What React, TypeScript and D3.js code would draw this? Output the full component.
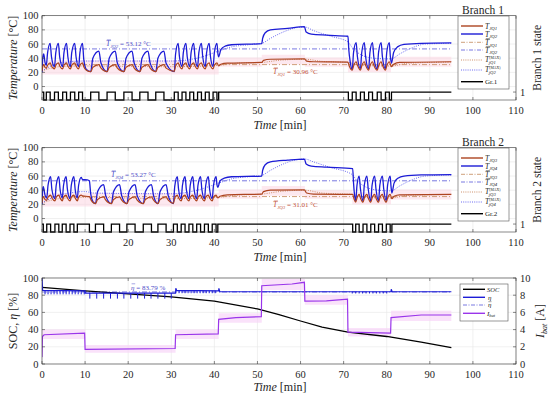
import * as d3 from 'd3';
import React from 'react';

type P = [number, number];

const FONT = "'Liberation Serif', 'DejaVu Serif', serif";
const W = 550;
const H = 399;
const X0 = 42;
const X1 = 516;

const timeTicks = [0, 10, 20, 30, 40, 50, 60, 70, 80, 90, 100, 110];
const tempTicks = [0, 20, 40, 60, 80, 100];
const pctTicks = [0, 20, 40, 60, 80, 100];
const ampTicks = [0, 2, 4, 6, 8, 10];

// mean junction temperatures and efficiency
const avgJQ1 = 30.96;
const avgJQ2 = 53.12;
const avgJQ3 = 31.01;
const avgJQ4 = 53.27;
const etaMean = 83.79;

// branch 1 switching state (time, state)
const gr1: P[] = [
  [0, 1], [0.4, 0], [1.0, 1], [1.9, 0], [2.9, 1], [3.8, 0], [4.8, 1], [5.7, 0], [6.6, 1], [7.6, 0], [8.5, 1], [9.4, 0],
  [11.3, 1], [13.2, 0], [15.1, 1], [17.0, 0], [19.0, 1], [20.9, 0], [22.7, 1], [24.6, 0], [26.4, 1], [28.3, 0],
  [30.7, 1], [31.6, 0], [32.5, 1], [33.4, 0], [34.3, 1], [35.2, 0], [36.1, 1], [37.0, 0], [37.9, 1], [38.8, 0], [39.7, 1], [40.6, 0], [41.0, 1],
  [71.1, 0], [72.0, 1], [72.9, 0], [73.9, 1], [74.8, 0], [75.8, 1], [76.7, 0], [77.8, 1], [78.7, 0], [79.7, 1], [80.6, 0], [81.1, 1], [95, 1],
];

// T_JQ2 (blue)
const tjq2: P[] = [
  [0, 20], [0.2, 42], [0.4, 46], [0.7, 34], [1.0, 30],
  [1.3, 48], [1.9, 61], [2.2, 42], [2.9, 28],
  [3.2, 48], [3.8, 61], [4.1, 42], [4.8, 28],
  [5.1, 48], [5.7, 61], [6.0, 42], [6.6, 28],
  [6.9, 48], [7.6, 61], [7.9, 42], [8.5, 28],
  [8.8, 48], [9.4, 61], [9.7, 38], [10.3, 24], [11.3, 21],
  [11.8, 40], [13.2, 50], [13.7, 33], [15.1, 21],
  [15.6, 40], [17.0, 50], [17.5, 33], [19.0, 21],
  [19.5, 40], [20.9, 50], [21.4, 33], [22.7, 21],
  [23.2, 40], [24.6, 50], [25.1, 33], [26.4, 21],
  [26.9, 40], [28.3, 50], [28.8, 33], [30.7, 21],
  [31.0, 46], [31.6, 61], [31.9, 42], [32.5, 28],
  [32.8, 48], [33.4, 61], [33.7, 42], [34.3, 28],
  [34.6, 48], [35.2, 61], [35.5, 42], [36.1, 28],
  [36.4, 48], [37.0, 61], [37.3, 42], [37.9, 28],
  [38.2, 48], [38.8, 61], [39.1, 42], [39.7, 28],
  [40.0, 48], [40.6, 61], [40.85, 45], [41.0, 42],
  [41.5, 52], [42.5, 57], [44, 59], [51, 60.5],
  [51.2, 68], [51.8, 76], [53, 80], [57, 82], [60.9, 84.5],
  [61.3, 77], [62.5, 74], [66, 72.5], [71.0, 71],
  [71.2, 52], [71.5, 36], [72.0, 24],
  [72.3, 48], [72.9, 62], [73.2, 42], [73.9, 25],
  [74.2, 48], [74.8, 62], [75.1, 42], [75.8, 25],
  [76.1, 48], [76.7, 62], [77.0, 42], [77.8, 25],
  [78.1, 48], [78.7, 62], [79.0, 42], [79.7, 25],
  [80.0, 48], [80.6, 62], [80.85, 42], [81.1, 33],
  [81.6, 48], [82.5, 56], [84, 59.5], [88, 61], [95, 61.5],
];

// T_JQ1 (brown)
const tjq1: P[] = [
  [0, 22], [0.2, 29], [0.4, 31], [0.7, 27], [1.0, 26],
  [1.3, 30], [1.9, 33.5], [2.2, 29], [2.9, 25],
  [3.2, 30], [3.8, 33.5], [4.1, 29], [4.8, 25],
  [5.1, 30], [5.7, 33.5], [6.0, 29], [6.6, 25],
  [6.9, 30], [7.6, 33.5], [7.9, 29], [8.5, 25],
  [8.8, 30], [9.4, 33.5], [9.7, 28], [10.3, 23], [11.3, 21],
  [11.8, 27], [13.2, 31], [13.7, 26], [15.1, 21],
  [15.6, 27], [17.0, 31], [17.5, 26], [19.0, 21],
  [19.5, 27], [20.9, 31], [21.4, 26], [22.7, 21],
  [23.2, 27], [24.6, 31], [25.1, 26], [26.4, 21],
  [26.9, 27], [28.3, 31], [28.8, 26], [30.7, 21.5],
  [31.0, 29], [31.6, 33.5], [31.9, 29], [32.5, 25],
  [32.8, 30], [33.4, 33.5], [33.7, 29], [34.3, 25],
  [34.6, 30], [35.2, 33.5], [35.5, 29], [36.1, 25],
  [36.4, 30], [37.0, 33.5], [37.3, 29], [37.9, 25],
  [38.2, 30], [38.8, 33.5], [39.1, 29], [39.7, 25],
  [40.0, 30], [40.6, 33.5], [41.0, 29],
  [41.5, 31.5], [43, 33], [51, 34],
  [51.4, 37], [53, 38.5], [60.9, 39],
  [61.4, 36], [63, 35], [71.0, 34.5],
  [71.3, 29], [72.0, 23],
  [72.3, 29], [72.9, 35], [73.2, 30], [73.9, 23],
  [74.2, 29], [74.8, 35], [75.1, 30], [75.8, 23],
  [76.1, 29], [76.7, 35], [77.0, 30], [77.8, 23],
  [78.1, 29], [78.7, 35], [79.0, 30], [79.7, 23],
  [80.0, 29], [80.6, 35], [81.1, 28],
  [81.6, 31.5], [83, 34], [95, 35],
];

const tjq2Max: P[] = [
  [0, 22], [4, 33], [10, 36], [30, 36], [36, 40], [41, 50], [44, 56], [48, 59], [51, 61], [53, 68], [56, 77], [59, 83],
  [61, 84], [63, 79], [67, 71], [71, 63], [72, 55], [74, 45], [77, 40], [81, 39], [83, 46], [86, 55], [89, 60], [95, 61],
];
const tjq1Max: P[] = [
  [0, 22], [4, 28], [10, 29], [30, 28], [41, 30], [45, 33], [51, 34], [55, 37], [61, 38.5], [65, 35.5], [71, 34],
  [74, 30], [81, 29], [85, 33], [95, 34.5],
];

const band1T = [0, 41, 41, 51, 51, 61, 61, 71, 71, 81, 81, 95];
const band1Lo = [17, 17, 28, 28, 31, 31, 28, 28, 20, 20, 28, 28];
const band1Hi = [37, 37, 41, 41, 45, 45, 41, 41, 38, 38, 42, 42];

// branch 2 switching state
const gr2: P[] = [
  [0, 1], [0.3, 0], [1.1, 1], [2.0, 0], [3.0, 1], [3.9, 0], [4.7, 1], [5.6, 0], [6.5, 1], [7.4, 0], [8.2, 1], [11.0, 0],
  [12.4, 1], [14.3, 0], [16.1, 1], [18.0, 0], [19.7, 1], [21.6, 0], [23.5, 1], [25.4, 0], [26.9, 1], [28.8, 0],
  [30.5, 1], [31.4, 0], [32.3, 1], [33.2, 0], [34.1, 1], [35.0, 0], [35.9, 1], [36.8, 0], [37.7, 1], [38.6, 0], [39.5, 1], [40.4, 0], [40.8, 1],
  [72.1, 0], [72.8, 1], [73.6, 0], [74.5, 1], [75.4, 0], [76.3, 1], [77.2, 0], [78.1, 1], [79.0, 0], [79.9, 1], [80.8, 0], [81.2, 1], [95, 1],
];

// T_JQ4 (blue)
const tjq4: P[] = [
  [0, 20], [0.15, 40], [0.3, 45], [0.7, 33], [1.1, 29],
  [1.4, 47], [2.0, 59], [2.3, 41], [3.0, 28],
  [3.3, 47], [3.9, 59], [4.2, 41], [4.7, 29],
  [5.0, 47], [5.6, 59], [5.9, 41], [6.5, 28],
  [6.8, 47], [7.4, 59], [7.7, 41], [8.2, 29],
  [8.5, 47], [9.1, 58], [9.4, 55], [10.5, 54.5], [11.0, 53],
  [11.3, 35], [11.8, 24], [12.4, 21],
  [12.9, 38], [14.3, 48], [14.8, 32], [16.1, 21],
  [16.6, 38], [18.0, 48], [18.5, 32], [19.7, 21],
  [20.2, 38], [21.6, 48], [22.1, 32], [23.5, 21],
  [24.0, 38], [25.4, 48], [25.9, 32], [26.9, 21],
  [27.4, 38], [28.8, 48], [29.3, 32], [30.5, 21],
  [30.8, 45], [31.4, 59], [31.7, 41], [32.3, 28],
  [32.6, 47], [33.2, 59], [33.5, 41], [34.1, 28],
  [34.4, 47], [35.0, 59], [35.3, 41], [35.9, 28],
  [36.2, 47], [36.8, 59], [37.1, 41], [37.7, 28],
  [38.0, 47], [38.6, 59], [38.9, 41], [39.5, 28],
  [39.8, 47], [40.4, 59], [40.6, 48], [40.8, 44],
  [41.3, 53], [42.3, 57], [44, 59], [51, 60],
  [51.2, 68], [51.8, 76], [53, 80], [57, 82.5], [60.9, 84],
  [61.3, 77], [62.5, 74], [66, 72.5], [72.1, 70.5],
  [72.3, 50], [72.5, 35], [72.8, 25],
  [73.1, 47], [73.6, 60], [73.9, 42], [74.5, 25],
  [74.8, 47], [75.4, 60], [75.7, 42], [76.3, 25],
  [76.6, 47], [77.2, 60], [77.5, 42], [78.1, 25],
  [78.4, 47], [79.0, 60], [79.3, 42], [79.9, 25],
  [80.2, 47], [80.8, 60], [81.0, 45], [81.2, 36],
  [81.7, 50], [82.6, 57], [84, 60], [88, 61.5], [95, 62],
];

// T_JQ3 (brown)
const tjq3: P[] = [
  [0, 22], [0.15, 29], [0.3, 31], [0.7, 27], [1.1, 26],
  [1.4, 30], [2.0, 33], [2.3, 29], [3.0, 25],
  [3.3, 30], [3.9, 33], [4.2, 29], [4.7, 25],
  [5.0, 30], [5.6, 33], [5.9, 29], [6.5, 25],
  [6.8, 30], [7.4, 33], [7.7, 29], [8.2, 25],
  [8.5, 30], [9.1, 33], [9.4, 32], [11.0, 31],
  [11.4, 26], [12.4, 21],
  [12.9, 27], [14.3, 30.5], [14.8, 26], [16.1, 21],
  [16.6, 27], [18.0, 30.5], [18.5, 26], [19.7, 21],
  [20.2, 27], [21.6, 30.5], [22.1, 26], [23.5, 21],
  [24.0, 27], [25.4, 30.5], [25.9, 26], [26.9, 21],
  [27.4, 27], [28.8, 30.5], [29.3, 26], [30.5, 21.5],
  [30.8, 29], [31.4, 33], [31.7, 29], [32.3, 25],
  [32.6, 30], [33.2, 33], [33.5, 29], [34.1, 25],
  [34.4, 30], [35.0, 33], [35.3, 29], [35.9, 25],
  [36.2, 30], [36.8, 33], [37.1, 29], [37.7, 25],
  [38.0, 30], [38.6, 33], [38.9, 29], [39.5, 25],
  [39.8, 30], [40.4, 33], [40.8, 29],
  [41.3, 31.5], [43, 33.5], [51, 34.5],
  [51.4, 38], [53, 40], [60.9, 40.5],
  [61.4, 36], [63, 34.5], [72.1, 34],
  [72.4, 28], [72.8, 23],
  [73.1, 29], [73.6, 34], [73.9, 29], [74.5, 23],
  [74.8, 29], [75.4, 34], [75.7, 29], [76.3, 23],
  [76.6, 29], [77.2, 34], [77.5, 29], [78.1, 23],
  [78.4, 29], [79.0, 34], [79.3, 29], [79.9, 23],
  [80.2, 29], [80.8, 34], [81.2, 28],
  [81.7, 31.5], [83, 33.5], [95, 34],
];

const tjq4Max: P[] = [
  [0, 22], [4, 33], [10, 38], [12, 36], [30, 35], [36, 40], [41, 50], [44, 56], [48, 59], [51, 61], [53, 68], [56, 77],
  [59, 83], [61, 84], [63, 80], [67, 72], [72, 62], [73, 54], [75, 45], [78, 40], [81, 39], [83, 46], [86, 55], [89, 60], [95, 61.5],
];
const tjq3Max: P[] = [
  [0, 22], [4, 28], [10, 30], [30, 28], [41, 30], [45, 33], [51, 34.5], [55, 38], [61, 40], [65, 36], [72, 34],
  [75, 30], [81, 29], [85, 33], [95, 34],
];

const band2T = [0, 41, 41, 51, 51, 61, 61, 72, 72, 81, 81, 95];
const band2Lo = [17, 17, 28, 28, 32, 32, 28, 28, 20, 20, 27, 27];
const band2Hi = [36, 36, 41, 41, 46, 46, 40, 40, 37, 37, 41, 41];

// SOC, efficiency, battery current
const soc: P[] = [
  [0, 89], [10, 85], [20, 81.5], [30, 78], [40, 73], [50, 64], [55, 57.5], [60, 50], [65, 43], [71, 37], [80, 32], [88, 25.5], [95, 19],
];
const etaBase: P[] = [
  [0, 100], [0.15, 85.5], [10, 85], [10.05, 82.5], [31, 82.5], [31.05, 88], [31.25, 85.5], [41, 85], [41.05, 88],
  [41.25, 84], [81, 84], [81.05, 87], [81.25, 84], [95, 84],
];
const etaDipsA = [0.7, 1.4, 2.1, 2.8, 3.5, 4.2, 4.9, 5.6, 6.3, 7.0, 7.7, 8.4, 9.1, 9.8];
const etaDipsB = [11.1, 12.7, 14.3, 15.9, 17.5, 19.0, 20.6, 22.2, 23.8, 25.3, 26.9, 28.5, 30.0];
const etaDipsC = [31.8, 32.5, 33.2, 33.9, 34.6, 35.3, 36.0, 36.7, 37.4, 38.1, 38.8, 39.5, 40.2];
const etaDipsD = [72.0, 72.8, 73.6, 74.4, 75.2, 76.0, 76.8, 77.6, 78.4, 79.2, 80.0];

const iBat: P[] = [
  [0, 0.8], [0.1, 3.2], [0.5, 3.4], [9.9, 3.6], [10.0, 1.7], [30.9, 1.8], [31.0, 3.4], [40.9, 3.5], [41.0, 5.2], [45, 5.4],
  [50.9, 5.5], [51.0, 9.1], [58, 9.3], [60.9, 9.5], [61.0, 7.3], [66, 7.35], [70.9, 7.55], [71.0, 3.7], [80.9, 3.6],
  [81.0, 5.4], [88, 5.7], [95, 5.7],
];
const iBandT = [0, 10, 10, 31, 31, 41, 41, 51, 51, 61, 61, 71, 71, 81, 81, 95];
const iBandLo = [2.9, 2.9, 1.3, 1.3, 2.9, 2.9, 4.8, 4.8, 8.6, 8.6, 6.9, 6.9, 3.2, 3.2, 5.0, 5.0];
const iBandHi = [4.0, 4.0, 2.2, 2.2, 4.0, 4.0, 5.9, 5.9, 9.9, 9.9, 8.0, 8.0, 4.2, 4.2, 6.2, 6.2];

const BLUE = '#1c1cd6';
const BROWN = '#ad4420';
const BLUE_DD = '#6a6ade';
const BROWN_DD = '#c9956c';
const BLUE_DOT = '#5a5af0';
const BROWN_DOT = '#c8845a';
const PURPLE = '#9a35ea';
const GRID = '#e6e6e6';
const AXIS = '#3a3a3a';

const x = d3.scaleLinear().domain([0, 110]).range([X0, X1]);

// T with optional bar, superscript and subscript
const TSym = ({ tx, ty, sub, bar, max, size = 7.5, color = '#222' }: any) => {
  const sw = size * 0.6;
  return (
    <g>
      {bar && <line x1={tx + 0.8} x2={tx + sw + 0.4} y1={ty - size * 0.82} y2={ty - size * 0.82} stroke={color} strokeWidth={0.5} />}
      <text x={tx} y={ty} fontFamily={FONT} fontSize={size} fill={color}>
        <tspan fontStyle="italic">T</tspan>
        {max ? (
          <>
            <tspan fontSize={size * 0.5} dy={-size * 0.45}>(MAX)</tspan>
            <tspan fontSize={size * 0.62} fontStyle="italic" dx={-size * 1.55} dy={size * 0.75}>{sub}</tspan>
          </>
        ) : (
          <tspan fontSize={size * 0.65} fontStyle="italic" dy={size * 0.25}>{sub}</tspan>
        )}
      </text>
    </g>
  );
};

const Box = ({ top, bot }: { top: number; bot: number }) => (
  <rect x={X0} y={top} width={X1 - X0} height={bot - top} fill="none" stroke={AXIS} strokeWidth={0.6} />
);

const XAxis = ({ top, bot, labY, titleY }: any) => (
  <g>
    {timeTicks.map(t => (
      <g key={t}>
        <line x1={x(t)} x2={x(t)} y1={bot} y2={bot - 3} stroke={AXIS} strokeWidth={0.6} />
        <line x1={x(t)} x2={x(t)} y1={top} y2={top + 3} stroke={AXIS} strokeWidth={0.6} />
        <text x={x(t)} y={labY} textAnchor="middle" fontFamily={FONT} fontSize={10.5} fill="#262626">{t}</text>
      </g>
    ))}
    <text x={280} y={titleY} textAnchor="middle" fontFamily={FONT} fontSize={12} fill="#262626">
      <tspan fontStyle="italic">Time</tspan> [min]
    </text>
  </g>
);

const TempPanel = ({ off, n, blue, brown, blueMax, brownMax, bT, bLo, bHi, gr, avgA, avgB, qA, qB, avgAPos, avgBPos }: any) => {
  const top = 15.7 + off;
  const bot = 100 + off;
  const y = d3.scaleLinear().domain([-19, 100]).range([bot, top]);
  const ys = d3.scaleLinear().domain([0, 10.6]).range([bot, top]);
  const smooth = d3.line<P>().x(d => x(d[0])).y(d => y(d[1])).curve(d3.curveMonotoneX);
  const step = d3.line<P>().x(d => x(d[0])).y(d => ys(d[1])).curve(d3.curveStepAfter);
  const band = d3.area<number>().x(d => x(d)).y0((_, i) => y(bLo[i])).y1((_, i) => y(bHi[i]));
  const clipId = `clipT${n}`;
  const lgX = 458;
  const lgY = 16 + off;
  const rows = [10, 18, 26.3, 34, 44, 54, 65.7];
  const items = [
    { c: BROWN, w: 1.4, d: undefined, lab: <TSym tx={lgX + 27} ty={lgY + rows[0] + 2.5} sub={`JQ${qA}`} /> },
    { c: BLUE, w: 1.4, d: undefined, lab: <TSym tx={lgX + 27} ty={lgY + rows[1] + 2.5} sub={`JQ${qB}`} /> },
    { c: BROWN_DD, w: 0.9, d: '4,1.5,1,1.5', lab: <TSym tx={lgX + 27} ty={lgY + rows[2] + 2.5} sub={`JQ${qA}`} bar /> },
    { c: BLUE_DD, w: 0.9, d: '4,1.5,1,1.5', lab: <TSym tx={lgX + 27} ty={lgY + rows[3] + 2.5} sub={`JQ${qB}`} bar /> },
    { c: BROWN_DOT, w: 0.9, d: '1,1.2', lab: <TSym tx={lgX + 27} ty={lgY + rows[4] + 2} sub={`jQ${qA}`} max /> },
    { c: BLUE_DOT, w: 0.9, d: '1,1.2', lab: <TSym tx={lgX + 27} ty={lgY + rows[5] + 2} sub={`jQ${qB}`} max /> },
    {
      c: '#000', w: 1.4, d: undefined,
      lab: <text x={lgX + 27} y={lgY + rows[6] + 2.5} fontFamily={FONT} fontSize={7} fill="#222">Gr.{n}</text>,
    },
  ];
  return (
    <g>
      <defs>
        <clipPath id={clipId}>
          <rect x={X0} y={top - 1} width={X1 - X0} height={bot - top + 2} />
        </clipPath>
      </defs>
      {timeTicks.map(t => (
        <line key={t} x1={x(t)} x2={x(t)} y1={top} y2={bot} stroke={GRID} strokeWidth={0.6} />
      ))}
      {tempTicks.map(t => (
        <line key={t} x1={X0} x2={X1} y1={y(t)} y2={y(t)} stroke={GRID} strokeWidth={0.6} />
      ))}
      <g clipPath={`url(#${clipId})`}>
        <path d={band(bT) || ''} fill="#fbd6e2" opacity={0.55} />
        <line x1={x(0)} x2={x(95)} y1={y(avgA)} y2={y(avgA)} stroke={BROWN_DD} strokeWidth={0.9} strokeDasharray="5,2,1,2" />
        <line x1={x(0)} x2={x(95)} y1={y(avgB)} y2={y(avgB)} stroke={BLUE_DD} strokeWidth={0.9} strokeDasharray="5,2,1,2" />
        <path d={smooth(brownMax) || ''} fill="none" stroke={BROWN_DOT} strokeWidth={0.9} strokeDasharray="1,1.3" />
        <path d={smooth(blueMax) || ''} fill="none" stroke={BLUE_DOT} strokeWidth={0.9} strokeDasharray="1,1.3" />
        <path d={smooth(blue) || ''} fill="none" stroke={BLUE} strokeWidth={1.3} />
        <path d={smooth(brown) || ''} fill="none" stroke={BROWN} strokeWidth={1.2} />
        <path d={step(gr) || ''} fill="none" stroke="#000" strokeWidth={1.3} />
      </g>
      <Box top={top} bot={bot} />
      {tempTicks.map(t => (
        <g key={t}>
          <line x1={X0} x2={X0 + 3} y1={y(t)} y2={y(t)} stroke={AXIS} strokeWidth={0.6} />
          <text x={38.5} y={y(t) + 3.6} textAnchor="end" fontFamily={FONT} fontSize={10.5} fill="#262626">{t}</text>
        </g>
      ))}
      <line x1={X1} x2={X1 - 3} y1={ys(1)} y2={ys(1)} stroke={AXIS} strokeWidth={0.6} />
      <text x={520} y={ys(1) + 3.6} fontFamily={FONT} fontSize={10.5} fill="#262626">1</text>
      <XAxis top={top} bot={bot} labY={bot + 13.5} titleY={bot + 28.5} />
      <text transform={`translate(17,${(top + bot) / 2}) rotate(-90)`} textAnchor="middle" fontFamily={FONT} fontSize={12} fill="#262626">
        <tspan fontStyle="italic">Temperature</tspan> [°C]
      </text>
      <text transform={`translate(541,${(top + bot) / 2}) rotate(-90)`} textAnchor="middle" fontFamily={FONT} fontSize={11.5} fill="#262626">
        Branch {n} state
      </text>
      <text x={483} y={top - 2} textAnchor="middle" fontFamily={FONT} fontSize={11.5} fill="#262626">Branch {n}</text>
      {/* mean annotations */}
      <g>
        <TSym tx={avgBPos[0]} ty={avgBPos[1]} sub={`JQ${qB}`} bar size={7.5} color="#4b4bc8" />
        <text x={avgBPos[0] + 14} y={avgBPos[1]} fontFamily={FONT} fontSize={7} fill="#4b4bc8">= {avgB.toFixed(2)} °C</text>
        <TSym tx={avgAPos[0]} ty={avgAPos[1]} sub={`JQ${qA}`} bar size={7.5} color="#c2503a" />
        <text x={avgAPos[0] + 14} y={avgAPos[1]} fontFamily={FONT} fontSize={7} fill="#c2503a">= {avgA.toFixed(2)} °C</text>
      </g>
      {/* legend */}
      <rect x={lgX} y={lgY} width={51} height={73} fill="#fff" stroke="#555" strokeWidth={0.6} />
      {items.map((it, i) => (
        <g key={i}>
          <line x1={lgX + 3} x2={lgX + 25} y1={lgY + rows[i]} y2={lgY + rows[i]} stroke={it.c} strokeWidth={it.w} strokeDasharray={it.d} />
          {it.lab}
        </g>
      ))}
    </g>
  );
};

const SocPanel = () => {
  const top = 278;
  const bot = 364;
  const y = d3.scaleLinear().domain([0, 100]).range([bot, top]);
  const yi = d3.scaleLinear().domain([0, 10]).range([bot, top]);
  const lin = d3.line<P>().x(d => x(d[0])).y(d => y(d[1]));
  const linI = d3.line<P>().x(d => x(d[0])).y(d => yi(d[1]));
  const bandI = d3.area<number>().x(d => x(d)).y0((_, i) => yi(iBandLo[i])).y1((_, i) => yi(iBandHi[i]));
  const dips = (ts: number[], base: number, tip: number) =>
    ts.map(t => `M${x(t)},${y(base)}L${x(t)},${y(tip)}`).join('');
  const lgX = 460;
  const lgY = 284;
  const rows = [5.3, 13.3, 21, 29.3];
  return (
    <g>
      <defs>
        <clipPath id="clipS">
          <rect x={X0} y={top - 1} width={X1 - X0} height={bot - top + 2} />
        </clipPath>
      </defs>
      {timeTicks.map(t => (
        <line key={t} x1={x(t)} x2={x(t)} y1={top} y2={bot} stroke={GRID} strokeWidth={0.6} />
      ))}
      {pctTicks.map(t => (
        <line key={t} x1={X0} x2={X1} y1={y(t)} y2={y(t)} stroke={GRID} strokeWidth={0.6} />
      ))}
      <g clipPath="url(#clipS)">
        <path d={bandI(iBandT) || ''} fill="#f7d2f7" opacity={0.65} />
        <line x1={x(0)} x2={x(95)} y1={y(etaMean)} y2={y(etaMean)} stroke={BLUE_DD} strokeWidth={0.9} strokeDasharray="5,2,1,2" />
        <path d={lin(soc) || ''} fill="none" stroke="#000" strokeWidth={1.3} />
        <path d={lin(etaBase) || ''} fill="none" stroke={BLUE} strokeWidth={1.2} />
        <path
          d={dips(etaDipsA, 85, 81) + dips(etaDipsB, 82.5, 76) + dips(etaDipsC, 85.3, 82.3) + dips(etaDipsD, 84, 82)}
          fill="none"
          stroke={BLUE}
          strokeWidth={1}
        />
        <path d={linI(iBat) || ''} fill="none" stroke={PURPLE} strokeWidth={1.2} />
      </g>
      <Box top={top} bot={bot} />
      {pctTicks.map(t => (
        <g key={t}>
          <line x1={X0} x2={X0 + 3} y1={y(t)} y2={y(t)} stroke={AXIS} strokeWidth={0.6} />
          <text x={38.5} y={y(t) + 3.6} textAnchor="end" fontFamily={FONT} fontSize={10.5} fill="#262626">{t}</text>
        </g>
      ))}
      {ampTicks.map(t => (
        <g key={t}>
          <line x1={X1} x2={X1 - 3} y1={yi(t)} y2={yi(t)} stroke={AXIS} strokeWidth={0.6} />
          <text x={520} y={yi(t) + 3.6} fontFamily={FONT} fontSize={10.5} fill="#262626">{t}</text>
        </g>
      ))}
      <XAxis top={top} bot={bot} labY={bot + 13.5} titleY={bot + 26.5} />
      <text transform={`translate(17,${(top + bot) / 2}) rotate(-90)`} textAnchor="middle" fontFamily={FONT} fontSize={12} fill="#262626">
        SOC, <tspan fontStyle="italic">η</tspan> [%]
      </text>
      <text transform={`translate(544,${(top + bot) / 2}) rotate(-90)`} textAnchor="middle" fontFamily={FONT} fontSize={12} fill="#262626">
        <tspan fontStyle="italic">I</tspan>
        <tspan fontStyle="italic" fontSize={8} dy={2.5}>bat</tspan>
        <tspan dy={-2.5}> [A]</tspan>
      </text>
      <line x1={131.6} x2={135.2} y1={283.8} y2={283.8} stroke="#4b4bc8" strokeWidth={0.5} />
      <text x={131} y={289.5} fontFamily={FONT} fontSize={7} fill="#4b4bc8">
        <tspan fontStyle="italic">η</tspan> = {etaMean.toFixed(2)} %
      </text>
      <rect x={lgX} y={lgY} width={48} height={37} fill="#fff" stroke="#555" strokeWidth={0.6} />
      <line x1={lgX + 3} x2={lgX + 25} y1={lgY + rows[0]} y2={lgY + rows[0]} stroke="#000" strokeWidth={1.4} />
      <text x={lgX + 27} y={lgY + rows[0] + 2.3} fontFamily={FONT} fontSize={6.5} fontStyle="italic" fill="#222">SOC</text>
      <line x1={lgX + 3} x2={lgX + 25} y1={lgY + rows[1]} y2={lgY + rows[1]} stroke={BLUE} strokeWidth={1.4} />
      <text x={lgX + 28} y={lgY + rows[1] + 2.3} fontFamily={FONT} fontSize={7} fontStyle="italic" fill="#222">η</text>
      <line x1={lgX + 3} x2={lgX + 25} y1={lgY + rows[2]} y2={lgY + rows[2]} stroke={BLUE_DD} strokeWidth={0.9} strokeDasharray="4,1.5,1,1.5" />
      <line x1={lgX + 28.3} x2={lgX + 31.5} y1={lgY + rows[2] - 3.3} y2={lgY + rows[2] - 3.3} stroke="#222" strokeWidth={0.4} />
      <text x={lgX + 28} y={lgY + rows[2] + 2.3} fontFamily={FONT} fontSize={7} fontStyle="italic" fill="#222">η</text>
      <line x1={lgX + 3} x2={lgX + 25} y1={lgY + rows[3]} y2={lgY + rows[3]} stroke={PURPLE} strokeWidth={1.4} />
      <text x={lgX + 27} y={lgY + rows[3] + 2.3} fontFamily={FONT} fontSize={7} fill="#222">
        <tspan fontStyle="italic">I</tspan>
        <tspan fontStyle="italic" fontSize={4.5} dy={1.5}>bat</tspan>
      </text>
    </g>
  );
};

const App = () => (
  <svg width={W} height={H} style={{ position: 'absolute', left: 0, top: 0, background: '#fff' }}>
    <rect width={W} height={H} fill="#fff" />
    <TempPanel
      off={0} n={1} blue={tjq2} brown={tjq1} blueMax={tjq2Max} brownMax={tjq1Max}
      bT={band1T} bLo={band1Lo} bHi={band1Hi} gr={gr1}
      avgA={avgJQ1} avgB={avgJQ2} qA={1} qB={2} avgBPos={[106, 46]} avgAPos={[273, 74]}
    />
    <TempPanel
      off={132} n={2} blue={tjq4} brown={tjq3} blueMax={tjq4Max} brownMax={tjq3Max}
      bT={band2T} bLo={band2Lo} bHi={band2Hi} gr={gr2}
      avgA={avgJQ3} avgB={avgJQ4} qA={3} qB={4} avgBPos={[111, 177]} avgAPos={[273, 207]}
    />
    <SocPanel />
  </svg>
);

export default App;
